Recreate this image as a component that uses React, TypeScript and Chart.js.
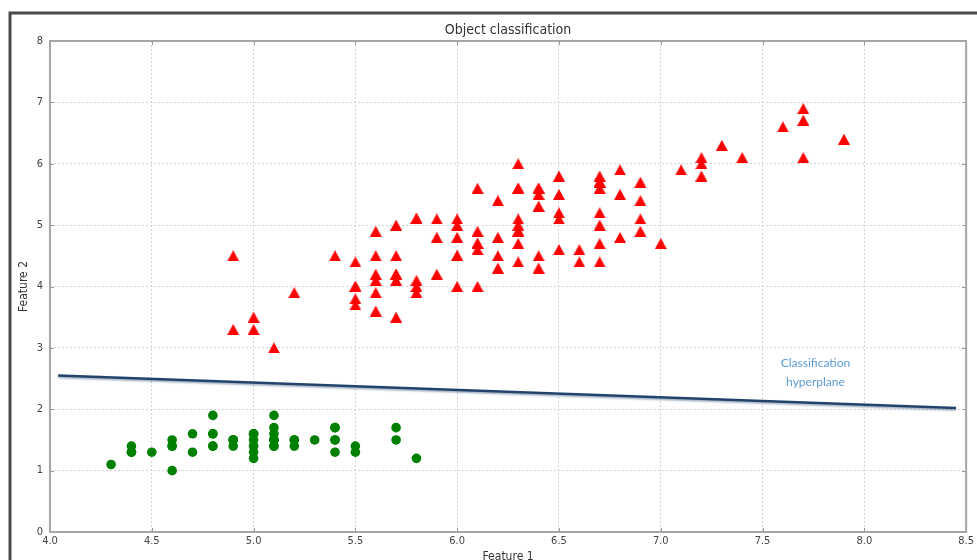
import React, { useEffect, useRef } from "react";
import { Chart, registerables } from "chart.js";

Chart.register(...registerables);

// Class 1 (green circles): Feature 1 / Feature 2
const greenX = [5.1, 4.9, 4.7, 4.6, 5.0, 5.4, 4.6, 5.0, 4.4, 4.9, 5.4, 4.8, 4.8, 4.3, 5.8, 5.7, 5.4, 5.1, 5.7, 5.1, 5.4, 5.1, 4.6, 5.1, 4.8, 5.0, 5.0, 5.2, 5.2, 4.7, 4.8, 5.4, 5.2, 5.5, 4.9, 5.0, 5.5, 4.9, 4.4, 5.1, 5.0, 4.5, 4.4, 5.0, 5.1, 4.8, 5.1, 4.6, 5.3, 5.0];
const greenY = [1.4, 1.4, 1.3, 1.5, 1.4, 1.7, 1.4, 1.5, 1.4, 1.5, 1.5, 1.6, 1.4, 1.1, 1.2, 1.5, 1.3, 1.4, 1.7, 1.5, 1.7, 1.5, 1.0, 1.7, 1.9, 1.6, 1.6, 1.5, 1.4, 1.6, 1.6, 1.5, 1.5, 1.4, 1.5, 1.2, 1.3, 1.5, 1.3, 1.5, 1.3, 1.3, 1.3, 1.6, 1.9, 1.4, 1.6, 1.4, 1.5, 1.4];

// Class 2 (red triangles)
const redX = [7.0, 6.4, 6.9, 5.5, 6.5, 5.7, 6.3, 4.9, 6.6, 5.2, 5.0, 5.9, 6.0, 6.1, 5.6, 6.7, 5.6, 5.8, 6.2, 5.6, 5.9, 6.1, 6.3, 6.1, 6.4, 6.6, 6.8, 6.7, 6.0, 5.7, 5.5, 5.5, 5.8, 6.0, 5.4, 6.0, 6.7, 6.3, 5.6, 5.5, 5.5, 6.1, 5.8, 5.0, 5.6, 5.7, 5.7, 6.2, 5.1, 5.7,
  6.3, 5.8, 7.1, 6.3, 6.5, 7.6, 4.9, 7.3, 6.7, 7.2, 6.5, 6.4, 6.8, 5.7, 5.8, 6.4, 6.5, 7.7, 7.7, 6.0, 6.9, 5.6, 7.7, 6.3, 6.7, 7.2, 6.2, 6.1, 6.4, 7.2, 7.4, 7.9, 6.4, 6.3, 6.1, 7.7, 6.3, 6.4, 6.0, 6.9, 6.7, 6.9, 5.8, 6.8, 6.7, 6.7, 6.3, 6.5, 6.2, 5.9];
const redY = [4.7, 4.5, 4.9, 4.0, 4.6, 4.5, 4.7, 3.3, 4.6, 3.9, 3.5, 4.2, 4.0, 4.7, 3.6, 4.4, 4.5, 4.1, 4.5, 3.9, 4.8, 4.0, 4.9, 4.7, 4.3, 4.4, 4.8, 5.0, 4.5, 3.5, 3.8, 3.7, 3.9, 5.1, 4.5, 4.5, 4.7, 4.4, 4.1, 4.0, 4.4, 4.6, 4.0, 3.3, 4.2, 4.2, 4.2, 4.3, 3.0, 4.1,
  6.0, 5.1, 5.9, 5.6, 5.8, 6.6, 4.5, 6.3, 5.8, 6.1, 5.1, 5.3, 5.5, 5.0, 5.1, 5.3, 5.5, 6.7, 6.9, 5.0, 5.7, 4.9, 6.7, 4.9, 5.7, 6.0, 4.8, 4.9, 5.6, 5.8, 6.1, 6.4, 5.6, 5.1, 5.6, 6.1, 5.6, 5.5, 4.8, 5.4, 5.6, 5.1, 5.1, 5.9, 5.7, 5.2, 5.0, 5.2, 5.4, 5.1];

// Hyperplane endpoints
const lineX = [4.04, 8.45];
const lineY = [2.55, 2.02];

const xTicks = [4.0, 4.5, 5.0, 5.5, 6.0, 6.5, 7.0, 7.5, 8.0, 8.5];
const yTicks = [0, 1, 2, 3, 4, 5, 6, 7, 8];

const annotationLines = ["Classification", "hyperplane"];
const annotationX = 7.76;
const annotationY = [2.75, 2.44];

const COND = "'DejaVu Sans Condensed', 'DejaVu Sans', sans-serif";

function makeTriangle(): HTMLCanvasElement {
  const c = document.createElement("canvas");
  c.width = 12;
  c.height = 11;
  const g = c.getContext("2d")!;
  g.fillStyle = "#ff0000";
  g.beginPath();
  g.moveTo(6, 0);
  g.lineTo(12, 11);
  g.lineTo(0, 11);
  g.closePath();
  g.fill();
  return c;
}

export default function App() {
  const ref = useRef<HTMLCanvasElement | null>(null);

  useEffect(() => {
    document.body.style.margin = "0";
    const canvas = ref.current!;
    const tri = makeTriangle();

    const decor = {
      id: "decor",
      beforeDraw(chart: any) {
        const ctx = chart.ctx;
        ctx.save();
        ctx.fillStyle = "#ffffff";
        ctx.fillRect(0, 0, chart.width, chart.height);
        ctx.strokeStyle = "#4a4a4a";
        ctx.lineWidth = 3;
        ctx.beginPath();
        ctx.moveTo(10, chart.height);
        ctx.lineTo(10, 13);
        ctx.lineTo(chart.width, 13);
        ctx.stroke();
        ctx.restore();
      },
      beforeDatasetDraw(chart: any, args: any) {
        if (args.index === 2) {
          const ctx = chart.ctx;
          ctx.save();
          ctx.shadowColor = "rgba(40,70,110,0.45)";
          ctx.shadowOffsetY = 1.5;
          ctx.shadowBlur = 2;
        }
      },
      afterDatasetDraw(chart: any, args: any) {
        if (args.index === 2) chart.ctx.restore();
      },
      afterDraw(chart: any) {
        const ctx = chart.ctx;
        const a = chart.chartArea;
        const xs = chart.scales.x;
        const ys = chart.scales.y;
        ctx.save();
        ctx.strokeStyle = "#9a9a9a";
        ctx.lineWidth = 1;
        ctx.beginPath();
        xTicks.forEach((v) => {
          const px = Math.round(xs.getPixelForValue(v)) + 0.5;
          ctx.moveTo(px, a.bottom);
          ctx.lineTo(px, a.bottom - 4);
          ctx.moveTo(px, a.top);
          ctx.lineTo(px, a.top + 4);
        });
        yTicks.forEach((v) => {
          const py = Math.round(ys.getPixelForValue(v)) + 0.5;
          ctx.moveTo(a.left, py);
          ctx.lineTo(a.left + 4, py);
          ctx.moveTo(a.right, py);
          ctx.lineTo(a.right - 4, py);
        });
        ctx.stroke();
        ctx.strokeStyle = "#a6a6a6";
        ctx.lineWidth = 2;
        ctx.strokeRect(a.left, a.top, a.right - a.left, a.bottom - a.top);
        ctx.fillStyle = "#333333";
        ctx.textAlign = "center";
        ctx.textBaseline = "middle";
        ctx.font = `14px ${COND}`;
        ctx.fillText("Object classification", (a.left + a.right) / 2, 30);
        ctx.font = `12px ${COND}`;
        ctx.textBaseline = "top";
        ctx.fillText("Feature 1", (a.left + a.right) / 2, 551);
        ctx.save();
        ctx.translate(24, (a.top + a.bottom) / 2);
        ctx.rotate(-Math.PI / 2);
        ctx.textBaseline = "middle";
        ctx.fillText("Feature 2", 0, 0);
        ctx.restore();
        ctx.fillStyle = "#5b9bd5";
        ctx.font = "12px Lato, 'Open Sans', sans-serif";
        ctx.textBaseline = "middle";
        annotationLines.forEach((t, i) => {
          ctx.fillText(t, xs.getPixelForValue(annotationX), ys.getPixelForValue(annotationY[i]));
        });
        ctx.restore();
      },
    };

    const chart = new Chart(canvas, {
      type: "scatter",
      data: {
        datasets: [
          {
            label: "red",
            data: redX.map((x, i) => ({ x, y: redY[i] })),
            pointStyle: tri as any,
            pointRadius: 6,
            backgroundColor: "#ff0000",
            borderColor: "#ff0000",
          },
          {
            label: "green",
            data: greenX.map((x, i) => ({ x, y: greenY[i] })),
            pointStyle: "circle",
            pointRadius: 4.8,
            borderWidth: 0,
            backgroundColor: "#008000",
            borderColor: "#008000",
          },
          {
            label: "hyperplane",
            data: lineX.map((x, i) => ({ x, y: lineY[i] })),
            showLine: true,
            pointRadius: 0,
            borderColor: "#22446c",
            borderWidth: 2.5,
            backgroundColor: "#22446c",
          },
        ],
      },
      options: {
        animation: false,
        responsive: false,
        devicePixelRatio: 1,
        layout: { padding: { left: 0, right: 7, top: 41, bottom: 0 } },
        plugins: {
          legend: { display: false },
          tooltip: { enabled: false },
          title: { display: false },
        },
        scales: {
          x: {
            type: "linear",
            min: 4,
            max: 8.5,
            afterFit: (s: any) => {
              s.height = 28;
            },
            afterBuildTicks: (s: any) => {
              s.ticks = xTicks.map((v) => ({ value: v }));
            },
            ticks: {
              autoSkip: false,
              maxRotation: 0,
              padding: 3,
              color: "#444444",
              font: { family: COND, size: 11 },
              callback: (v: any) => Number(v).toFixed(1),
            },
            grid: { color: "#d4d4d4", lineWidth: 1, drawTicks: false },
            border: { display: false, dash: [2, 2] },
          },
          y: {
            type: "linear",
            min: 0,
            max: 8,
            afterFit: (s: any) => {
              s.width = 50;
            },
            afterBuildTicks: (s: any) => {
              s.ticks = yTicks.map((v) => ({ value: v }));
            },
            ticks: {
              autoSkip: false,
              padding: 7,
              color: "#444444",
              font: { family: COND, size: 11 },
              callback: (v: any) => String(v),
            },
            grid: { color: "#d4d4d4", lineWidth: 1, drawTicks: false },
            border: { display: false, dash: [2, 2] },
          },
        },
      },
      plugins: [decor],
    });
    return () => chart.destroy();
  }, []);

  return (
    <div style={{ position: "fixed", left: 0, top: 0, width: 977, height: 560 }}>
      <canvas ref={ref} width={977} height={560} style={{ width: 977, height: 560, display: "block" }} />
    </div>
  );
}
